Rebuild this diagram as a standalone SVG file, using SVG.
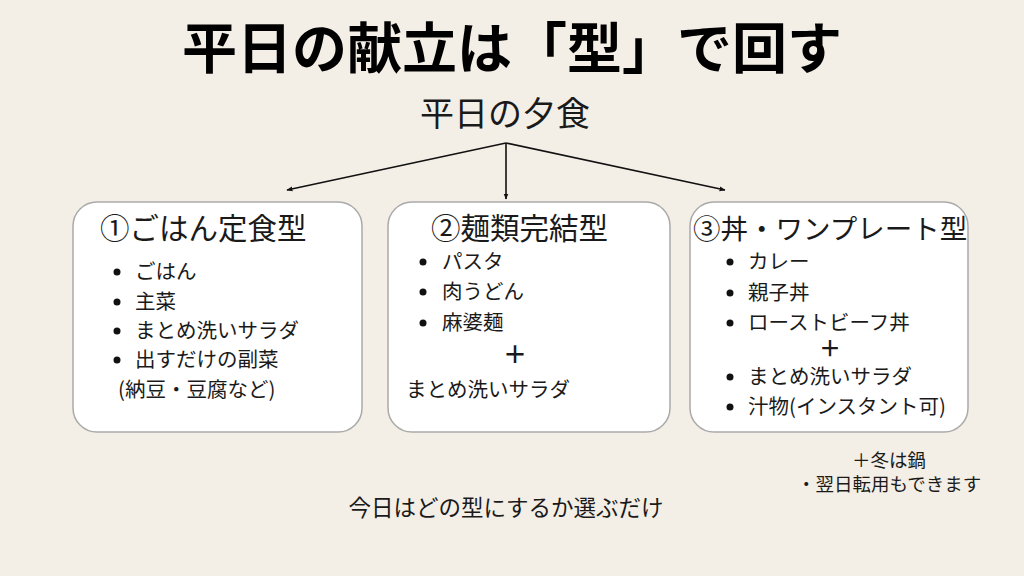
<svg xmlns="http://www.w3.org/2000/svg" width="1024" height="576" viewBox="0 0 1024 576">
<style>
text{font-family:"Noto Sans CJK JP","Noto Sans",sans-serif;fill:#1a1a1a}
.title{font-size:55px;font-weight:bold;fill:#000}
.sub{font-size:34px}
.bt{font-size:29.5px}
.it{font-size:20.5px}
.pl{font-size:24px;font-weight:bold}
.note{font-size:18.5px}
.box{fill:#fff;stroke:#aaa;stroke-width:1.5}
.dot{fill:#111}
.conn{stroke:#111;stroke-width:1.6;fill:none}
</style>
<defs>
<marker id="ah" viewBox="0 0 10 10" refX="9" refY="5" markerWidth="6" markerHeight="6" orient="auto" markerUnits="userSpaceOnUse">
<path d="M0,1 L10,5 L0,9 z" fill="#111"/>
</marker>
</defs>
<rect width="1024" height="576" fill="#f4efe6"/>
<text class="title" x="512" y="68" text-anchor="middle">平日の献立は「型」で回す</text>
<g id="root"><text class="sub" x="505" y="126" text-anchor="middle">平日の夕食</text></g>
<g id="connectors">
<line class="conn" x1="506" y1="143" x2="287" y2="190" marker-end="url(#ah)"/>
<line class="conn" x1="506" y1="143" x2="506" y2="199" marker-end="url(#ah)"/>
<line class="conn" x1="506" y1="143" x2="725" y2="190" marker-end="url(#ah)"/>
</g>
<g id="box1">
<rect class="box" x="73" y="202" width="289" height="230" rx="24"/>
<text class="bt" x="100" y="239">①ごはん定食型</text>
<circle class="dot" cx="117" cy="272" r="3.5"/><text class="it" x="135" y="279">ごはん</text>
<circle class="dot" cx="117" cy="302" r="3.5"/><text class="it" x="135" y="309">主菜</text>
<circle class="dot" cx="117" cy="331" r="3.5"/><text class="it" x="135" y="338">まとめ洗いサラダ</text>
<circle class="dot" cx="117" cy="360" r="3.5"/><text class="it" x="135" y="367">出すだけの副菜</text>
<text class="it" x="118" y="397">(納豆・豆腐など)</text>
</g>
<g id="box2">
<rect class="box" x="388" y="202" width="282" height="230" rx="24"/>
<text class="bt" x="431" y="239">②麺類完結型</text>
<circle class="dot" cx="423" cy="262" r="3.5"/><text class="it" x="442" y="269">パスタ</text>
<circle class="dot" cx="423" cy="292" r="3.5"/><text class="it" x="442" y="299">肉うどん</text>
<circle class="dot" cx="423" cy="323" r="3.5"/><text class="it" x="442" y="330">麻婆麺</text>
<text class="pl" x="515" y="363" text-anchor="middle">＋</text>
<text class="it" x="406" y="397">まとめ洗いサラダ</text>
</g>
<g id="box3">
<rect class="box" x="690" y="202" width="278" height="230" rx="24"/>
<text class="bt" x="693" y="239" style="font-size:27.5px">③丼・ワンプレート型</text>
<circle class="dot" cx="730" cy="262" r="3.5"/><text class="it" x="748" y="269">カレー</text>
<circle class="dot" cx="730" cy="293" r="3.5"/><text class="it" x="748" y="300">親子丼</text>
<circle class="dot" cx="730" cy="323" r="3.5"/><text class="it" x="748" y="330">ローストビーフ丼</text>
<text class="pl" x="830" y="356" text-anchor="middle" style="font-size:22px">＋</text>
<circle class="dot" cx="730" cy="377" r="3.5"/><text class="it" x="748" y="384">まとめ洗いサラダ</text>
<circle class="dot" cx="730" cy="407" r="3.5"/><text class="it" x="748" y="414">汁物(インスタント可)</text>
</g>
<g id="notes">
<text class="note" x="852" y="467">＋冬は鍋</text>
<text class="note" x="797" y="491">・翌日転用もできます</text>
<text x="506" y="516" text-anchor="middle" style="font-size:22.5px">今日はどの型にするか選ぶだけ</text>
</g>
</svg>
